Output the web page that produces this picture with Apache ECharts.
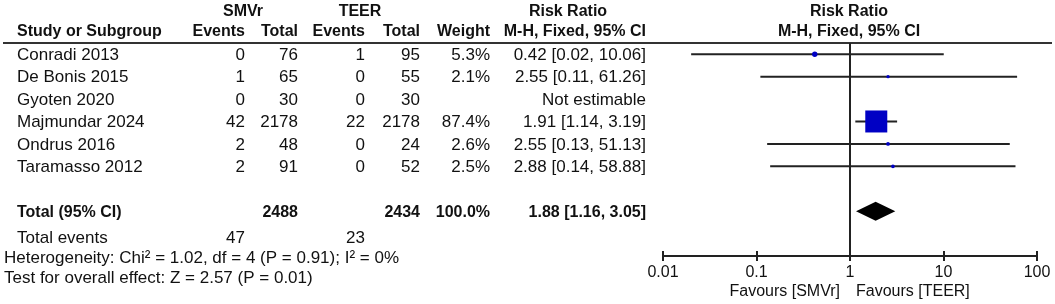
<!DOCTYPE html>
<html>
<head>
<meta charset="utf-8">
<script src="https://cdn.jsdelivr.net/npm/echarts@6/dist/echarts.min.js"></script>
<style>
  html, body { margin: 0; padding: 0; background: #fff; }
  #forest { width: 1055px; height: 304px; }
</style>
</head>
<body>
<div id="forest"></div>
<script>
// study rows
const studies = ['Conradi 2013', 'De Bonis 2015', 'Gyoten 2020', 'Majmundar 2024', 'Ondrus 2016', 'Taramasso 2012'];
const smvrEvents = [0, 1, 0, 42, 2, 2];
const smvrTotal = [76, 65, 30, 2178, 48, 91];
const teerEvents = [1, 0, 0, 22, 0, 0];
const teerTotal = [95, 55, 30, 2178, 24, 52];
const weights = [5.3, 2.1, null, 87.4, 2.6, 2.5];
const riskRatio = [0.42, 2.55, null, 1.91, 2.55, 2.88];
const ciLow = [0.02, 0.11, null, 1.14, 0.13, 0.14];
const ciHigh = [10.06, 61.26, null, 3.19, 51.13, 58.88];
// pooled estimate: [rr, low, high]
const pooled = [1.88, 1.16, 3.05];
const pooledTotals = [2488, 2434];
const totalEvents = [47, 23];
const axisTicks = [0.01, 0.1, 1, 10, 100];

const font = '"Liberation Sans", Arial, sans-serif';
const ink = '#111';
const TOTAL_ROW = 7;

const fmt = v => v.toFixed(2);
const ciText = i => riskRatio[i] == null ? 'Not estimable'
  : `${fmt(riskRatio[i])} [${fmt(ciLow[i])}, ${fmt(ciHigh[i])}]`;

// table column right edges (px)
const col = { se: 245, st: 298, te: 365, tt: 420, w: 490, rr: 646 };

const tableRows = studies.map((s, i) => [1, i]);
tableRows.push([1, TOTAL_ROW]);

const studyMarks = [];
riskRatio.forEach((r, i) => {
  if (r != null) studyMarks.push([r, i, ciLow[i], ciHigh[i], weights[i]]);
});

const chart = echarts.init(document.getElementById('forest'));

function txt(x, y, text, align, bold, size) {
  return {
    type: 'text', x: x, y: y,
    style: {
      text: String(text), fill: ink, align: align || 'left', verticalAlign: 'middle',
      font: (bold ? 'bold ' : '') + (size || (bold ? 16 : 17)) + 'px ' + font
    }
  };
}

chart.setOption({
  animation: false,
  grid: { left: 663, right: 18, top: 43, bottom: 48 },
  xAxis: [{
    type: 'log', logBase: 10, min: 0.01, max: 100, interval: 1,
    position: 'bottom',
    axisLine: { onZero: false, lineStyle: { color: '#222', width: 2 } },
    axisTick: { length: 5, lineStyle: { color: '#222', width: 2 } },
    axisLabel: {
      color: ink, fontSize: 16, fontFamily: font, margin: 9,
      formatter: v => String(+(+v).toPrecision(2))
    },
    splitLine: { show: false }
  }, {
    type: 'log', logBase: 10, min: 0.01, max: 100, interval: 1,
    position: 'bottom',
    axisLine: { show: false, onZero: false },
    axisTick: { inside: true, length: 5, lineStyle: { color: '#222', width: 2 } },
    axisLabel: { show: false },
    splitLine: { show: false }
  }],
  yAxis: {
    type: 'value', inverse: true, min: -0.5, max: 9, show: false
  },
  graphic: [
    { type: 'line', shape: { x1: 3, y1: 43, x2: 1052, y2: 43 }, style: { stroke: '#333', lineWidth: 2 } },
    txt(243, 12, 'SMVr', 'center', true),
    txt(360, 12, 'TEER', 'center', true),
    txt(568, 12, 'Risk Ratio', 'center', true),
    txt(849, 12, 'Risk Ratio', 'center', true),
    txt(17, 32, 'Study or Subgroup', 'left', true),
    txt(col.se, 32, 'Events', 'right', true),
    txt(col.st, 32, 'Total', 'right', true),
    txt(col.te, 32, 'Events', 'right', true),
    txt(col.tt, 32, 'Total', 'right', true),
    txt(col.w, 32, 'Weight', 'right', true),
    txt(col.rr, 32, 'M-H, Fixed, 95% CI', 'right', true),
    txt(849, 32, 'M-H, Fixed, 95% CI', 'center', true),
    txt(17, 238, 'Total events'),
    txt(col.se, 238, totalEvents[0], 'right'),
    txt(col.te, 238, totalEvents[1], 'right'),
    txt(4, 258, 'Heterogeneity: Chi\u00B2 = 1.02, df = 4 (P = 0.91); I\u00B2 = 0%'),
    txt(4, 278, 'Test for overall effect: Z = 2.57 (P = 0.01)'),
    txt(840, 292, 'Favours [SMVr]', 'right', false, 16),
    txt(856, 292, 'Favours [TEER]', 'left', false, 16)
  ],
  series: [
    {
      // table text
      type: 'custom',
      data: tableRows,
      renderItem: (params, api) => {
        const i = params.dataIndex;
        const y = api.coord([1, api.value(1)])[1] + 1;
        if (i < studies.length) {
          return {
            type: 'group', children: [
              txt(17, y, studies[i]),
              txt(col.se, y, smvrEvents[i], 'right'),
              txt(col.st, y, smvrTotal[i], 'right'),
              txt(col.te, y, teerEvents[i], 'right'),
              txt(col.tt, y, teerTotal[i], 'right'),
              txt(col.w, y, weights[i] == null ? '' : weights[i].toFixed(1) + '%', 'right'),
              txt(col.rr, y, ciText(i), 'right')
            ]
          };
        }
        return {
          type: 'group', children: [
            txt(17, y, 'Total (95% CI)', 'left', true),
            txt(col.st, y, pooledTotals[0], 'right', true),
            txt(col.tt, y, pooledTotals[1], 'right', true),
            txt(col.w, y, '100.0%', 'right', true),
            txt(col.rr, y, `${fmt(pooled[0])} [${fmt(pooled[1])}, ${fmt(pooled[2])}]`, 'right', true)
          ]
        };
      },
      markLine: {
        silent: true, symbol: 'none', label: { show: false },
        lineStyle: { color: '#222', width: 2, type: 'solid' },
        data: [{ xAxis: 1 }]
      },
      z: 1
    },
    {
      // study CIs and weighted squares
      type: 'custom',
      data: studyMarks,
      renderItem: (params, api) => {
        const p = api.coord([api.value(0), api.value(1)]);
        const lo = api.coord([api.value(2), api.value(1)]);
        const hi = api.coord([api.value(3), api.value(1)]);
        const s = Math.max(3, 22 * Math.sqrt(api.value(4) / 87.4));
        return {
          type: 'group', children: [
            { type: 'line', shape: { x1: lo[0], y1: lo[1], x2: hi[0], y2: hi[1] }, style: { stroke: '#222', lineWidth: 2 } },
            { type: 'rect', shape: { x: p[0] - s / 2, y: p[1] - s / 2, width: s, height: s, r: s < 6 ? s / 2 : 0 }, style: { fill: '#0000c4' } }
          ]
        };
      },
      z: 3
    },
    {
      // pooled diamond
      type: 'custom',
      data: [[pooled[0], TOTAL_ROW, pooled[1], pooled[2]]],
      renderItem: (params, api) => {
        const c = api.coord([api.value(0), api.value(1)]);
        const lo = api.coord([api.value(2), api.value(1)]);
        const hi = api.coord([api.value(3), api.value(1)]);
        const h = 9.5;
        return {
          type: 'polygon',
          shape: { points: [[lo[0], c[1]], [c[0], c[1] - h], [hi[0], c[1]], [c[0], c[1] + h]] },
          style: { fill: '#000' }
        };
      },
      z: 3
    }
  ]
});
</script>
</body>
</html>
